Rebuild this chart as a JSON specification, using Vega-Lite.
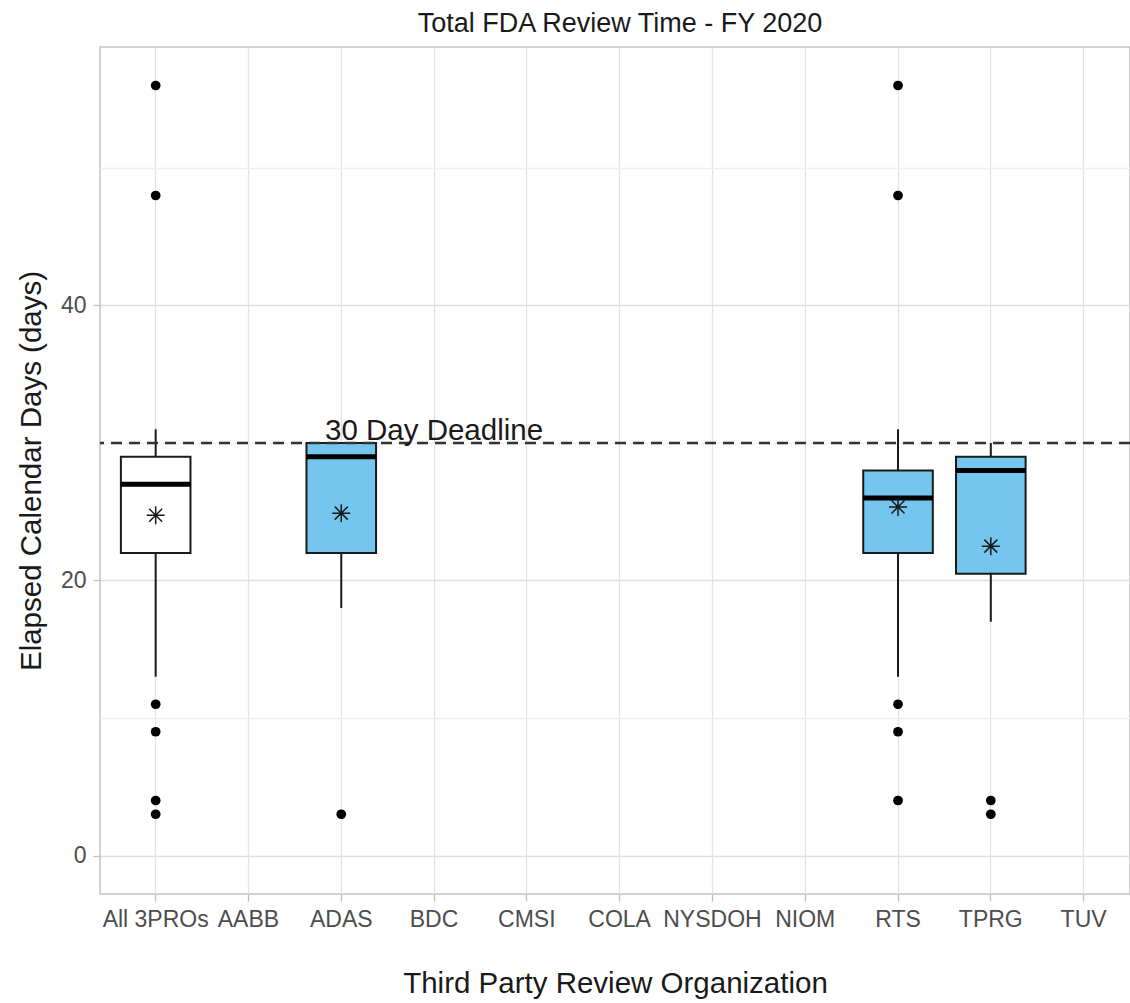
{
  "$schema": "https://vega.github.io/schema/vega-lite/v6.json",
  "width": 1030,
  "height": 847,
  "autosize": "none",
  "padding": {"left": 100, "top": 47, "right": 0, "bottom": 109},
  "background": "white",
  "title": {"text": "Total FDA Review Time - FY 2020", "fontSize": 27, "font": "Liberation Sans", "fontWeight": "normal", "color": "#1a1a1a", "anchor": "middle", "offset": 9, "dx": 5},
  "config": {"view": {"stroke": "#C4C4C4", "strokeWidth": 1.5}, "font": "Liberation Sans"},
  "datasets": {
    "boxes": [
      {"org": "All 3PROs", "group": "all", "lower": 13, "q1": 22, "median": 27, "q3": 29, "upper": 31, "mean": 24.75},
      {"org": "ADAS", "group": "org", "lower": 18, "q1": 22, "median": 29, "q3": 30, "upper": 30, "mean": 24.9},
      {"org": "RTS", "group": "org", "lower": 13, "q1": 22, "median": 26, "q3": 28, "upper": 31, "mean": 25.35},
      {"org": "TPRG", "group": "org", "lower": 17, "q1": 20.5, "median": 28, "q3": 29, "upper": 30, "mean": 22.5}
    ],
    "outliers": [
      {"org": "All 3PROs", "value": 56},
      {"org": "All 3PROs", "value": 48},
      {"org": "All 3PROs", "value": 11},
      {"org": "All 3PROs", "value": 9},
      {"org": "All 3PROs", "value": 4},
      {"org": "All 3PROs", "value": 3},
      {"org": "ADAS", "value": 3},
      {"org": "RTS", "value": 56},
      {"org": "RTS", "value": 48},
      {"org": "RTS", "value": 11},
      {"org": "RTS", "value": 9},
      {"org": "RTS", "value": 4},
      {"org": "TPRG", "value": 4},
      {"org": "TPRG", "value": 3}
    ],
    "deadline": [
      {"org": "BDC", "days": 30, "label": "30 Day Deadline"}
    ]
  },
  "encoding": {
    "x": {
      "field": "org", "type": "nominal", "sort": null,
      "scale": {"domain": ["All 3PROs", "AABB", "ADAS", "BDC", "CMSI", "COLA", "NYSDOH", "NIOM", "RTS", "TPRG", "TUV"], "paddingInner": 0, "paddingOuter": 0.05, "align": 1},
      "axis": {
        "labelAngle": 0, "labelFontSize": 23, "labelColor": "#4D4D4D", "labelPadding": 7, "labelOverlap": false, "labelBound": false,
        "tickSize": 7, "tickColor": "#C0C0C0", "tickWidth": 1.3, "domain": false,
        "grid": true, "gridColor": "#E3E3E3", "gridWidth": 1.3,
        "title": "Third Party Review Organization", "titleFontSize": 29.5, "titleFontWeight": "normal", "titleColor": "#1a1a1a", "titlePadding": 38
      }
    },
    "y": {
      "field": "lower", "type": "quantitative",
      "scale": {"domain": [-2.8, 58.8], "zero": false, "nice": false},
      "axis": {
        "values": [0, 10, 20, 30, 40, 50],
        "labelExpr": "datum.value % 20 === 0 ? datum.label : ''",
        "labelFontSize": 23, "labelColor": "#4D4D4D", "labelPadding": 7,
        "tickSize": 7, "tickColor": "#C0C0C0", "tickWidth": 1.3,
        "tickOpacity": {"condition": {"test": "datum.value % 20 === 0", "value": 1}, "value": 0},
        "domain": false, "grid": true,
        "gridColor": {"condition": {"test": "datum.value % 20 === 0", "value": "#DEDEDE"}, "value": "#F0F0F0"},
        "gridWidth": 1.3,
        "title": "Elapsed Calendar Days (days)", "titleFontSize": 29.5, "titleFontWeight": "normal", "titleColor": "#1a1a1a", "titlePadding": 14
      }
    }
  },
  "layer": [
    {
      "data": {"name": "boxes"},
      "mark": {"type": "rule", "stroke": "#1a1a1a", "strokeWidth": 2},
      "encoding": {
        "y2": {"field": "upper"}
      }
    },
    {
      "data": {"name": "boxes"},
      "mark": {"type": "bar", "stroke": "#1a1a1a", "strokeWidth": 2, "width": {"band": 0.75}},
      "encoding": {
        "y": {"field": "q1", "type": "quantitative", "title": "Elapsed Calendar Days (days)"},
        "y2": {"field": "q3"},
        "fill": {"field": "group", "type": "nominal", "scale": {"domain": ["all", "org"], "range": ["#FFFFFF", "#74C6EE"]}, "legend": null}
      }
    },
    {
      "data": {"name": "boxes"},
      "mark": {"type": "tick", "color": "#000000", "size": 70, "thickness": 5, "orient": "horizontal", "opacity": 1},
      "encoding": {
        "y": {"field": "median", "type": "quantitative", "title": "Elapsed Calendar Days (days)"}
      }
    },
    {
      "data": {"name": "boxes"},
      "mark": {"type": "point", "shape": "M-1,0L1,0M0,-1L0,1M-0.72,-0.72L0.72,0.72M-0.72,0.72L0.72,-0.72", "size": 324, "stroke": "#1a1a1a", "strokeWidth": 1.5, "filled": false, "opacity": 1},
      "encoding": {
        "y": {"field": "mean", "type": "quantitative", "title": "Elapsed Calendar Days (days)"}
      }
    },
    {
      "data": {"name": "outliers"},
      "mark": {"type": "circle", "size": 95, "color": "#000000", "opacity": 1},
      "encoding": {
        "y": {"field": "value", "type": "quantitative", "title": "Elapsed Calendar Days (days)"}
      }
    },
    {
      "data": {"name": "deadline"},
      "mark": {"type": "rule", "stroke": "#333333", "strokeWidth": 2.3, "strokeDash": [11, 7]},
      "encoding": {
        "x": null,
        "y": {"field": "days", "type": "quantitative", "title": "Elapsed Calendar Days (days)"}
      }
    },
    {
      "data": {"name": "deadline"},
      "mark": {"type": "text", "fontSize": 29.5, "color": "#1a1a1a", "align": "center", "baseline": "alphabetic", "dy": -3},
      "encoding": {
        "y": {"field": "days", "type": "quantitative", "title": "Elapsed Calendar Days (days)"},
        "text": {"field": "label"}
      }
    }
  ]
}
